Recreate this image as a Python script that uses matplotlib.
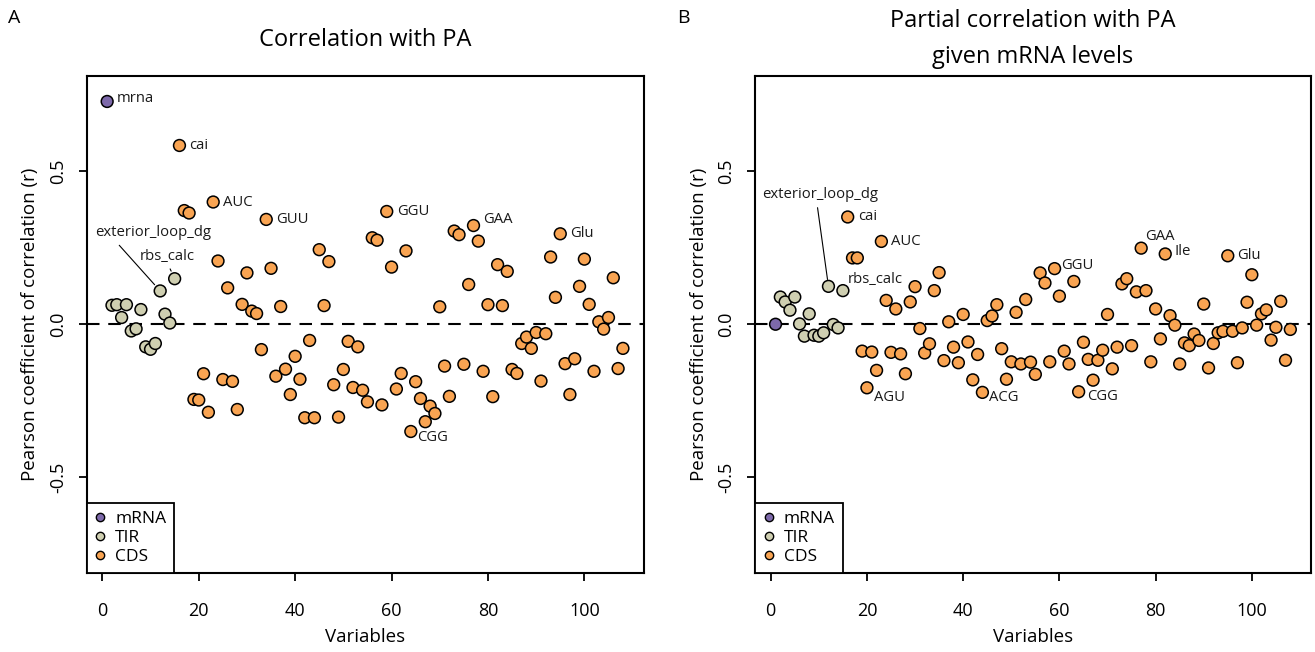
import matplotlib
matplotlib.use("Agg")
import matplotlib.pyplot as plt
from matplotlib.lines import Line2D
import numpy as np

plt.rcParams["font.family"] = ["Open Sans", "DejaVu Sans"]
plt.rcParams["axes.unicode_minus"] = False

# variables 1..108: 1 = mRNA, 2..15 = TIR, 16..108 = CDS
variables = np.arange(1, 109)
groups = ["mRNA"] + ["TIR"] * 14 + ["CDS"] * 93

# panel A: correlation with PA
corr_pa = [
    0.729, 0.062, 0.064, 0.022, 0.064, -0.022, -0.015, 0.048, -0.074, -0.082,
    -0.063, 0.109, 0.033, 0.004, 0.149, 0.585, 0.372, 0.364, -0.246, -0.248,
    -0.162, -0.288, 0.400, 0.207, -0.181, 0.119, -0.187, -0.279, 0.065, 0.168,
    0.043, 0.035, -0.083, 0.343, 0.183, -0.170, 0.058, -0.147, -0.230, -0.105,
    -0.180, -0.306, -0.053, -0.306, 0.244, 0.061, 0.205, -0.198, -0.304, -0.148,
    -0.056, -0.207, -0.074, -0.216, -0.254, 0.283, 0.275, -0.264, 0.369, 0.187,
    -0.212, -0.161, 0.240, -0.351, -0.188, -0.243, -0.319, -0.268, -0.292, 0.057,
    -0.137, -0.236, 0.305, 0.293, -0.131, 0.130, 0.323, 0.272, -0.154, 0.064,
    -0.237, 0.195, 0.061, 0.173, -0.148, -0.161, -0.063, -0.042, -0.079, -0.027,
    -0.186, -0.031, 0.220, 0.088, 0.296, -0.129, -0.230, -0.113, 0.124, 0.213,
    0.065, -0.154, 0.008, -0.016, 0.022, 0.152, -0.145, -0.079,
]

# panel B: partial correlation with PA given mRNA levels
pcorr_pa = [
    0.000, 0.089, 0.073, 0.046, 0.089, 0.001, -0.039, 0.034, -0.036, -0.039,
    -0.028, 0.124, -0.001, -0.012, 0.110, 0.351, 0.217, 0.217, -0.088, -0.208,
    -0.091, -0.151, 0.271, 0.078, -0.092, 0.050, -0.097, -0.162, 0.073, 0.123,
    -0.014, -0.094, -0.064, 0.110, 0.169, -0.119, 0.008, -0.075, -0.126, 0.032,
    -0.058, -0.182, -0.099, -0.223, 0.012, 0.027, 0.064, -0.080, -0.180, -0.123,
    0.039, -0.130, 0.081, -0.124, -0.164, 0.168, 0.135, -0.123, 0.182, 0.092,
    -0.088, -0.130, 0.140, -0.221, -0.059, -0.115, -0.183, -0.118, -0.085, 0.032,
    -0.146, -0.075, 0.132, 0.149, -0.070, 0.106, 0.249, 0.110, -0.123, 0.050,
    -0.048, 0.230, 0.028, -0.003, -0.130, -0.061, -0.070, -0.032, -0.053, 0.066,
    -0.143, -0.063, -0.028, -0.023, 0.224, -0.023, -0.126, -0.012, 0.072, 0.162,
    -0.003, 0.034, 0.047, -0.052, -0.010, 0.075, -0.118, -0.017,
]

labels_a = {1: "mrna", 12: "exterior_loop_dg", 15: "rbs_calc", 16: "cai", 23: "AUC",
            34: "GUU", 59: "GGU", 64: "CGG", 77: "GAA", 95: "Glu"}
labels_b = {12: "exterior_loop_dg", 15: "rbs_calc", 16: "cai", 20: "AGU", 23: "AUC",
            44: "ACG", 59: "GGU", 64: "CGG", 77: "GAA", 82: "Ile", 95: "Glu"}

group_colors = {"mRNA": "#7d69aa", "TIR": "#cfcfb1", "CDS": "#f9a452"}

PX = 0.72  # pixels -> points at 100 dpi

# label placement (pixels from point): dx, dy, ha ; leader-line labels get relpos
place_a = {1: (9.5, 3, "left"), 16: (10, 0, "left"), 23: (10, 0, "left"),
           34: (10, 0, "left"), 59: (10, 0, "left"), 77: (9.6, 5.7, "left"),
           95: (10, 0, "left"), 64: (6.7, -6.4, "left"),
           12: (-7, 58, "center"), 15: (-7.5, 22.6, "center")}
lines_a = {12: (0.17, 6), 15: (0.51, 6)}
place_b = {12: (-8.2, 91.7, "center"), 15: (5, 11, "left"), 16: (10, 0, "left"),
           20: (7.3, -9.3, "left"), 23: (10, 0, "left"), 44: (6.7, -5.4, "left"),
           59: (6.6, 3, "left"), 64: (8, -5, "left"), 77: (4, 11.7, "left"),
           82: (9, 2, "left"), 95: (9.4, 0, "left")}
lines_b = {12: (0.47, 5)}


def panel(ax, values, labels, place, lines):
    cols = [group_colors[g] for g in groups]
    ax.axhline(0, color="black", lw=1.5, dashes=(6, 4.2), zorder=1)
    ax.scatter(variables, values, s=72, c=cols, edgecolors="black",
               linewidths=1.1, zorder=3)
    for idx, txt in labels.items():
        dx, dy, ha = place[idx]
        kw = {}
        if idx in lines:
            rx, shrink = lines[idx]
            kw["arrowprops"] = dict(arrowstyle="-", color="black", lw=0.8,
                                    relpos=(rx, 0), shrinkA=2, shrinkB=shrink)
        ax.annotate(txt, xy=(variables[idx - 1], values[idx - 1]),
                    xytext=(dx * PX, dy * PX), textcoords="offset points",
                    ha=ha, va="center", fontsize=10.7, color="#1a1a1a", **kw)
    ax.set_xlim(-3.28, 112.28)
    ax.set_ylim(-0.814, 0.814)
    ax.set_xticks([0, 20, 40, 60, 80, 100])
    ax.set_yticks([-0.5, 0.0, 0.5])
    ax.set_yticklabels(["-0.5", "0.0", "0.5"], rotation=90, va="center")
    ax.tick_params(axis="both", length=6, width=1.3, labelsize=13)
    ax.tick_params(axis="x", pad=15)
    ax.tick_params(axis="y", pad=8)
    for s in ax.spines.values():
        s.set_linewidth(1.5)
    ax.set_xlabel("Variables", fontsize=13.5)
    ax.xaxis.set_label_coords(0.5, -0.128)
    ax.xaxis.label.set_va("center")
    ax.set_ylabel("Pearson coefficient of correlation (r)", fontsize=13.5)
    ax.yaxis.set_label_coords(-0.101, 0.5)
    ax.yaxis.label.set_va("center")

    handles = [Line2D([], [], ls="none", marker="o", ms=6, mec="black", mew=1,
                      mfc=group_colors[g]) for g in ["mRNA", "TIR", "CDS"]]
    leg = ax.legend(handles, ["mRNA", "TIR", "CDS"], loc="lower left",
                    borderaxespad=0, fancybox=False, edgecolor="black",
                    framealpha=1, fontsize=12.5, handlelength=0.7,
                    handletextpad=0.5, borderpad=0.45, labelspacing=0.18)
    leg.get_frame().set_linewidth(1.3)


fig = plt.figure(figsize=(13.15, 6.52), dpi=100)
ax_a = fig.add_axes([0.0658, 0.1212, 0.4236, 0.763])
ax_b = fig.add_axes([0.5741, 0.1212, 0.4228, 0.763])

panel(ax_a, corr_pa, labels_a, place_a, lines_a)
panel(ax_b, pcorr_pa, labels_b, place_b, lines_b)

ax_a.text(0.5, 1.0714, "Correlation with PA", transform=ax_a.transAxes,
          ha="center", va="center", fontsize=17)
ax_b.text(0.5, 1.1087, "Partial correlation with PA", transform=ax_b.transAxes,
          ha="center", va="center", fontsize=17)
ax_b.text(0.5, 1.038, "given mRNA levels", transform=ax_b.transAxes,
          ha="center", va="center", fontsize=17)

fig.text(14 / 1315, 1 - 18 / 652, "A", ha="center", va="center", fontsize=14)
fig.text(683 / 1315, 1 - 18 / 652, "B", ha="center", va="center", fontsize=14)

fig.savefig("out.png", dpi=100)
